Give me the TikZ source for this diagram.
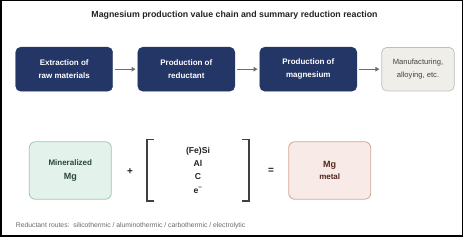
\documentclass[tikz,border=0pt]{standalone}
\usepackage{fontspec}
\setmainfont{Liberation Sans}
\usetikzlibrary{arrows.meta}
\definecolor{navy}{RGB}{35,54,102}
\definecolor{arrowgray}{RGB}{110,110,110}
\definecolor{lightfill}{RGB}{239,238,233}
\definecolor{lightdraw}{RGB}{190,190,184}
\definecolor{greenfill}{RGB}{227,242,234}
\definecolor{greendraw}{RGB}{158,201,178}
\definecolor{greentext}{RGB}{45,70,58}
\definecolor{pinkfill}{RGB}{248,234,230}
\definecolor{pinkdraw}{RGB}{214,164,148}
\definecolor{pinktext}{RGB}{80,40,30}
\definecolor{inktext}{RGB}{34,34,34}
\definecolor{foottext}{RGB}{105,105,105}
\begin{document}
\begin{tikzpicture}[x=1pt,y=-1pt,
  stagebox/.style={rounded corners=5pt, fill=navy, draw=navy, text=white,
    minimum width=97pt, minimum height=44pt, align=center,
    font=\fontsize{8}{12.7}\selectfont\bfseries, inner sep=0pt},
  endbox/.style={rounded corners=5pt, fill=lightfill, draw=lightdraw, line width=0.7pt,
    text=inktext!85, minimum width=72.5pt, minimum height=43.5pt, align=center,
    font=\fontsize{7.6}{12.7}\selectfont, inner sep=0pt},
  flowarrow/.style={draw=arrowgray, line width=1.2pt, shorten >=2pt, shorten <=2pt,
    -{Triangle[length=4pt,width=4.5pt]}},
  eqbox/.style={rounded corners=6pt, line width=0.8pt, minimum width=82pt,
    minimum height=57.5pt, align=center, inner sep=0pt},
  symb/.style={font=\fontsize{10}{12}\selectfont\bfseries, text=inktext},
  bracketline/.style={draw=black!75, line width=1.5pt}
]
\useasboundingbox (0,0) rectangle (463,237);
\draw[line width=1.5pt] (0.75,0.75) rectangle (462.25,236.25);

\node[font=\fontsize{8.8}{10}\selectfont\bfseries, text=inktext] (title) at (234.5,15.7)
  {Magnesium production value chain and summary reduction reaction};

\node[stagebox] (b1) at (64.2,69.2) {Extraction of\\raw materials};
\node[stagebox] (b2) at (186.3,69.2) {Production of\\reductant};
\node[stagebox] (b3) at (308.3,69.2) {Production of\\magnesium};
\node[endbox] (b4) at (418,69.2) {Manufacturing,\\alloying, etc.};

\draw[flowarrow] (b1) -- (b2);
\draw[flowarrow] (b2) -- (b3);
\draw[flowarrow] (b3) -- (b4);

\node[eqbox, fill=greenfill, draw=greendraw, text=greentext,
  font=\fontsize{8}{14}\selectfont\bfseries] (mineral) at (70.3,170.5)
  {Mineralized\\{\fontsize{9}{14}\selectfont Mg}};
\node[symb] (plus) at (130,171.5) {+};
\node[minimum width=102pt, minimum height=61pt, inner sep=0pt, align=center,
  text=inktext, font=\fontsize{8.6}{13.3}\selectfont\bfseries] (red) at (198,170.2)
  {(Fe)Si\\Al\\C\\e\textsuperscript{−}};
\draw[bracketline] ([xshift=7pt]red.north west) -- (red.north west) -- (red.south west) -- ([xshift=7pt]red.south west);
\draw[bracketline] ([xshift=-7pt]red.north east) -- (red.north east) -- (red.south east) -- ([xshift=-7pt]red.south east);
\node[symb] (equals) at (271,171) {=};
\node[eqbox, fill=pinkfill, draw=pinkdraw, text=pinktext] (metal) at (329.7,170.5)
  {{\fontsize{9}{13}\selectfont\bfseries Mg}\\{\fontsize{8}{13}\selectfont\bfseries metal}};

\node[anchor=west, text=foottext, font=\fontsize{6.8}{8}\selectfont, inner sep=0pt] (foot) at (15.7,225.3)
  {Reductant routes:\ \ silicothermic / aluminothermic / carbothermic / electrolytic};
\end{tikzpicture}
\end{document}
